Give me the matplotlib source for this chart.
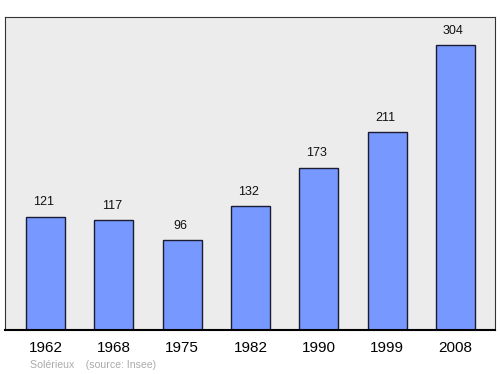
import matplotlib
matplotlib.use("Agg")
import matplotlib.pyplot as plt

years = ["1962", "1968", "1975", "1982", "1990", "1999", "2008"]
population = [121, 117, 96, 132, 173, 211, 304]

fig = plt.figure(figsize=(5, 3.74), dpi=100)
ax = fig.add_axes([0.01, 0.1176, 0.98, 0.8369])
ax.set_facecolor("#ececec")
x = list(range(len(years)))
ax.bar(x, population, width=0.571, color="#7799ff", edgecolor="#1a1a33", linewidth=1.0, zorder=2)
for xi, v in zip(x, population):
    ax.text(xi - 0.03, v + 9, str(v), ha="center", va="bottom", fontsize=9, color="#111111",
            family="Liberation Sans")
ax.set_xlim(-0.593, 6.578)
ax.set_ylim(0, 334)
ax.set_yticks([])
ax.set_xticks(x)
ax.set_xticklabels(years, fontsize=11, family="Liberation Sans")
ax.tick_params(axis="x", length=0, pad=8)
for s in ["left", "top", "right"]:
    ax.spines[s].set_color("#333333")
    ax.spines[s].set_linewidth(0.8)
ax.spines["bottom"].set_color("#000000")
ax.spines["bottom"].set_linewidth(1.5)
fig.text(30 / 500, 1 - 365 / 374, "Solérieux    (source: Insee)", fontsize=7.6, color="#aaaaaa",
         va="center", ha="left", family="Liberation Sans")
fig.savefig("out.png", dpi=100)
